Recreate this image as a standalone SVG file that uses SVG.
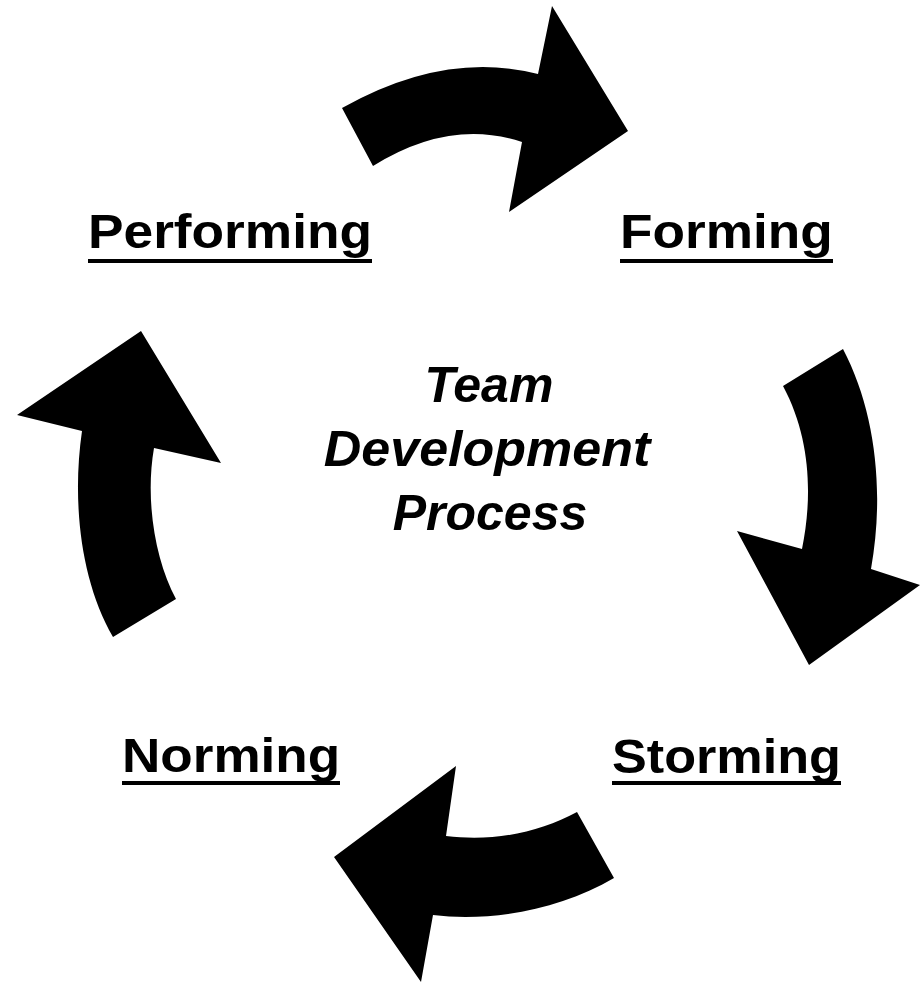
<svg xmlns="http://www.w3.org/2000/svg" width="920" height="983" viewBox="0 0 920 983">
<style>
.lbl{font-family:"Liberation Sans",Arial,sans-serif;font-weight:bold;font-size:49px;fill:#000}
.ctr{font-family:"Liberation Sans",Arial,sans-serif;font-weight:bold;font-style:italic;font-size:50px;fill:#000;text-anchor:middle}
.ul{fill:#000}
.arr{fill:#000;stroke:none}
</style>
<rect width="920" height="983" fill="#fff"/>
<g id="connectors">
<path class="arr" d="M342,108 Q445,50 538,74 L552,6 L628,131 L509,212 L522,142 Q450,118 373,166 Z"/>
<path class="arr" d="M783,386 L843,349 C875,410 885,490 871,569 L920,585 L809,665 L737,531 L802,549 C812,500 812,440 783,386 Z"/>
<path class="arr" d="M577,812 L614,878 C560,910 490,922 433,915 L421,982 L334,857 L456,766 L446,836 C495,842 540,832 577,812 Z"/>
<path class="arr" d="M113,637 L176,599 C155,560 145,500 154,448 L221,463 L141,331 L17,415 L82,431 C72,500 80,580 113,637 Z"/>
</g>
<g id="center">
<text class="ctr" x="489" y="402">Team</text>
<text class="ctr" transform="translate(487,466) scale(1.04,1)" x="0" y="0">Development</text>
<text class="ctr" x="490" y="530">Process</text>
</g>
<g id="performing">
<text class="lbl" transform="translate(88,248) scale(1.08,1)" x="0" y="0" textLength="263" lengthAdjust="spacingAndGlyphs">Performing</text>
<rect class="ul" x="88" y="259" width="284" height="4"/>
</g>
<g id="forming">
<text class="lbl" transform="translate(620,248) scale(1.08,1)" x="0" y="0" textLength="197" lengthAdjust="spacingAndGlyphs">Forming</text>
<rect class="ul" x="620" y="259" width="213" height="4"/>
</g>
<g id="storming">
<text class="lbl" transform="translate(612,773) scale(1.08,1)" x="0" y="0" textLength="212" lengthAdjust="spacingAndGlyphs">Storming</text>
<rect class="ul" x="612" y="781" width="229" height="4"/>
</g>
<g id="norming">
<text class="lbl" transform="translate(122,772) scale(1.08,1)" x="0" y="0" textLength="202" lengthAdjust="spacingAndGlyphs">Norming</text>
<rect class="ul" x="122" y="781" width="218" height="4"/>
</g>
</svg>
